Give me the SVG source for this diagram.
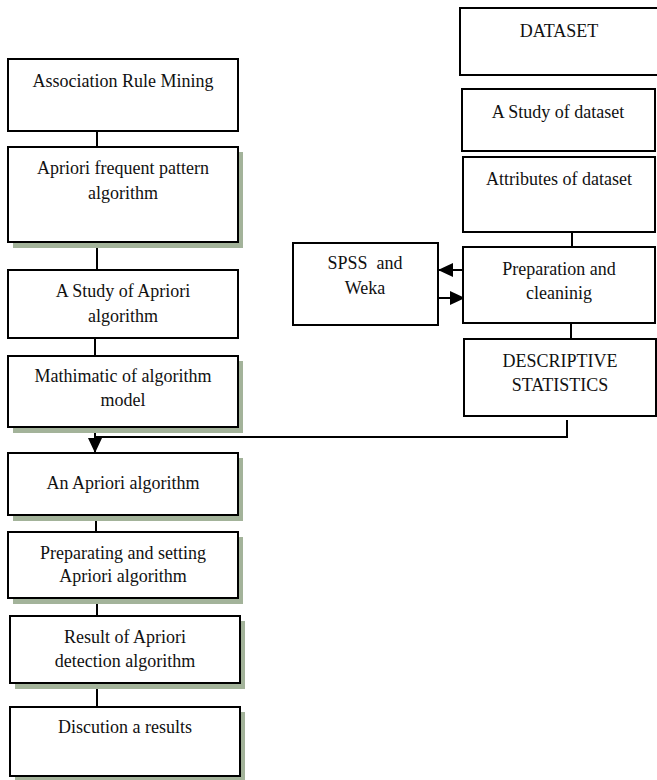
<svg xmlns="http://www.w3.org/2000/svg" width="657" height="780" viewBox="0 0 657 780">
<style>
.box{fill:#fff;stroke:#000;stroke-width:2}
.sh{fill:#a3b39a}
.t{font-family:"Liberation Serif","Times New Roman",serif;font-size:18px;fill:#111;text-anchor:middle}
.c{fill:none;stroke:#000;stroke-width:2}
</style>
<defs>
<marker id="ah" markerUnits="userSpaceOnUse" markerWidth="15" markerHeight="14" refX="15" refY="7" orient="auto">
<path d="M0,0 L15,7 L0,14 z" fill="#000"/>
</marker>
</defs>
<rect width="657" height="780" fill="#fff"/>

<g id="connectors">
<path class="c" d="M97,131 V147"/>
<path class="c" d="M97,242 V270"/>
<path class="c" d="M95,338 V356"/>
<path class="c" d="M95,427 V453" marker-end="url(#ah)"/>
<path class="c" d="M567,420 V437 H95"/>
<path class="c" d="M96,515 V532"/>
<path class="c" d="M97,598 V616"/>
<path class="c" d="M97,683 V707"/>
<path class="c" d="M572,232 V247"/>
<path class="c" d="M571,323 V339"/>
<path class="c" d="M462,270 H438" marker-end="url(#ah)"/>
<path class="c" d="M438,298 H465" marker-end="url(#ah)"/>
</g>

<g id="n1"><rect class="box" x="8" y="59" width="230" height="72"/><text class="t" x="123" y="87">Association Rule Mining</text></g>
<g id="n2"><rect class="sh" x="13" y="152" width="230" height="96"/><rect class="box" x="8" y="147" width="230" height="95"/><text class="t" x="123" y="174">Apriori frequent pattern</text><text class="t" x="123" y="199">algorithm</text></g>
<g id="n3"><rect class="box" x="8" y="270" width="230" height="68"/><text class="t" x="123" y="297">A Study of Apriori</text><text class="t" x="123" y="322">algorithm</text></g>
<g id="n4"><rect class="sh" x="13" y="361" width="230" height="72"/><rect class="box" x="8" y="356" width="230" height="71"/><text class="t" x="123" y="382">Mathimatic of algorithm</text><text class="t" x="123" y="406">model</text></g>
<g id="n5"><rect class="sh" x="13" y="458" width="230" height="63"/><rect class="box" x="8" y="453" width="230" height="62"/><text class="t" x="123" y="489">An Apriori algorithm</text></g>
<g id="n6"><rect class="sh" x="13" y="537" width="230" height="67"/><rect class="box" x="8" y="532" width="230" height="66"/><text class="t" x="123" y="559">Preparating and setting</text><text class="t" x="123" y="582">Apriori algorithm</text></g>
<g id="n7"><rect class="sh" x="15" y="621" width="230" height="68"/><rect class="box" x="10" y="616" width="230" height="67"/><text class="t" x="125" y="643">Result of Apriori</text><text class="t" x="125" y="667">detection algorithm</text></g>
<g id="n8"><rect class="sh" x="15" y="712" width="230" height="70"/><rect class="box" x="10" y="707" width="230" height="69"/><text class="t" x="125" y="733">Discution a results</text></g>

<g id="r1"><rect class="box" x="460" y="8" width="200" height="67"/><text class="t" x="559" y="37">DATASET</text></g>
<g id="r2"><rect class="box" x="462" y="89" width="193" height="62"/><text class="t" x="558" y="118">A Study of dataset</text></g>
<g id="r3"><rect class="box" x="463" y="157" width="192" height="75"/><text class="t" x="559" y="185">Attributes of dataset</text></g>
<g id="r4"><rect class="box" x="463" y="247" width="192" height="76"/><text class="t" x="559" y="275">Preparation and</text><text class="t" x="559" y="299">cleaninig</text></g>
<g id="r5"><rect class="box" x="464" y="339" width="192" height="77"/><text class="t" x="560" y="367">DESCRIPTIVE</text><text class="t" x="560" y="391">STATISTICS</text></g>
<g id="spss"><rect class="box" x="293" y="243" width="145" height="82"/><text class="t" x="365" y="269" xml:space="preserve">SPSS  and</text><text class="t" x="365" y="294">Weka</text></g>
</svg>
